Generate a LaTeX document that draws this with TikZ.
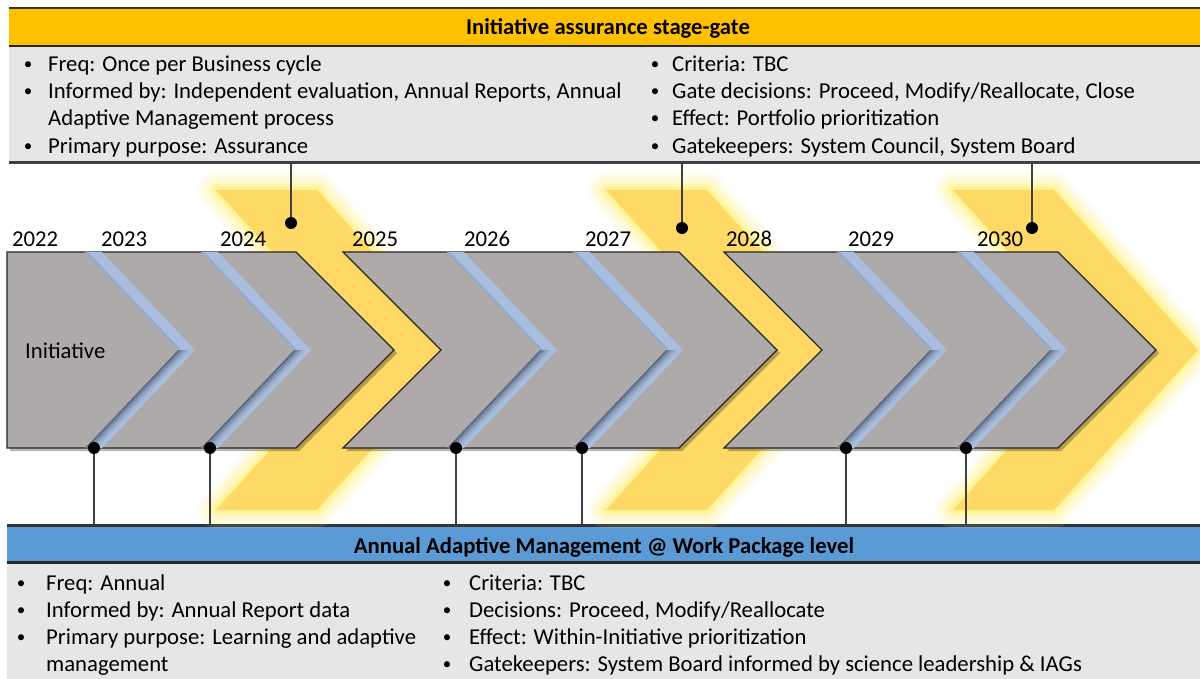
\documentclass[tikz,border=0pt]{standalone}
\usepackage{fontspec}
\setmainfont{Carlito}
\definecolor{hdrorange}{HTML}{FFC000}
\definecolor{hdrblue}{HTML}{5B9BD5}
\definecolor{boxgray}{HTML}{E7E6E6}
\definecolor{chevgray}{HTML}{AEAAAA}
\definecolor{sepblue}{HTML}{A9BEDF}
\definecolor{sepdark}{HTML}{5F6C84}
\definecolor{gold}{HTML}{FFD966}
\definecolor{glowcol}{HTML}{FFF27A}
\begin{document}
\begin{tikzpicture}[x=1pt,y=-1pt,font=\fontsize{22.7}{27}\selectfont,
  txt/.style={anchor=base west,inner sep=0pt},
  bul/.style={anchor=base,inner sep=0pt,font=\fontsize{17}{20}\selectfont,yshift=2pt},
  yr/.style={anchor=base west,inner sep=0pt},
  ttl/.style={anchor=base,inner sep=0pt,font=\fontsize{22.7}{27}\selectfont\bfseries},
  panel/.style={rectangle,inner sep=0pt,outer sep=0pt,anchor=north west},
  conn/.style={draw=black!75,line width=1.2pt},
  dotm/.style={circle,fill=black,inner sep=0pt,minimum size=12pt},
  grp/.style={fill=chevgray,draw=black!85,line width=1.2pt,line join=miter},
  grpshadow/.style={fill=black,opacity=0.28}]
\useasboundingbox (0,0) rectangle (1200,679);
\fill[white] (0,0) rectangle (1200,679);

% ---------- panels ----------
\node (tophdr) [panel,fill=hdrorange,minimum width=1191pt,minimum height=38pt] at (9,8) {};
\node (topbox) [panel,fill=boxgray,minimum width=1191pt,minimum height=117pt] at (9,46) {};
\node (bothdr) [panel,fill=hdrblue,minimum width=1193pt,minimum height=37pt] at (7,525) {};
\node (botbox) [panel,fill=boxgray,minimum width=1193pt,minimum height=117pt] at (7,562) {};
\draw[line width=2pt,black!80] (tophdr.north west) -- (tophdr.north east);
\draw[line width=2.5pt,black!85] (topbox.north west) -- (topbox.north east);
\draw[line width=3pt,black!75] (topbox.south west) -- (topbox.south east);
\draw[line width=3pt,black!80] (bothdr.north west) -- (bothdr.north east);
\draw[line width=3pt,black!85] (botbox.north west) -- (botbox.north east);

% ---------- header texts ----------
\node (toptitle) [ttl] at (608,35) {Initiative assurance stage-gate};
\node (bottitle) [ttl] at (604,553) {Annual Adaptive Management @ Work Package level};

% top-left
\node (tlb1) [bul] at (28,72) {•};
\node (tlt1) [txt] at (48,72) {Freq: Once per Business cycle};
\node (tlb2) [bul] at (28,99) {•};
\node (tlt2) [txt] at (48,99) {Informed by: Independent evaluation, Annual Reports, Annual};
\node (tlt3) [txt] at (48,126) {Adaptive Management process};
\node (tlb4) [bul] at (28,154) {•};
\node (tlt4) [txt] at (48,154) {Primary purpose: Assurance};
% top-right
\node (trb1) [bul] at (655,72) {•};
\node (trt1) [txt] at (672,72) {Criteria: TBC};
\node (trb2) [bul] at (655,99) {•};
\node (trt2) [txt] at (672,99) {Gate decisions: Proceed, Modify/Reallocate, Close};
\node (trb3) [bul] at (655,126) {•};
\node (trt3) [txt] at (672,126) {Effect: Portfolio prioritization};
\node (trb4) [bul] at (655,154) {•};
\node (trt4) [txt] at (672,154) {Gatekeepers: System Council, System Board};
% bottom-left
\node (blb1) [bul] at (21,590) {•};
\node (blt1) [txt] at (46,590) {Freq: Annual};
\node (blb2) [bul] at (21,617) {•};
\node (blt2) [txt] at (46,617) {Informed by: Annual Report data};
\node (blb3) [bul] at (21,644) {•};
\node (blt3) [txt] at (46,644) {Primary purpose: Learning and adaptive};
\node (blt4) [txt] at (46,671) {management};
% bottom-right
\node (brb1) [bul] at (447,590) {•};
\node (brt1) [txt] at (469,590) {Criteria: TBC};
\node (brb2) [bul] at (447,617) {•};
\node (brt2) [txt] at (469,617) {Decisions: Proceed, Modify/Reallocate};
\node (brb3) [bul] at (447,644) {•};
\node (brt3) [txt] at (469,644) {Effect: Within-Initiative prioritization};
\node (brb4) [bul] at (447,671) {•};
\node (brt4) [txt] at (469,671) {Gatekeepers: System Board informed by science leadership \& IAGs};

% ---------- yellow gate chevrons with glow ----------
\foreach \a in {216,606,953} {
  \foreach \w/\o in {36/0.10,28/0.14,20/0.2,12/0.3,6/0.45} {
    \draw[glowcol,line width=\w pt,opacity=\o,line join=round]
      (\a,190) -- (\a+101,190) -- (\a+245,350) -- (\a+101,510) -- (\a,510) -- (\a+144,350) -- cycle;
  }
  \fill[gold] (\a,190) -- (\a+101,190) -- (\a+245,350) -- (\a+101,510) -- (\a,510) -- (\a+144,350) -- cycle;
}

% ---------- grey groups ----------
\fill[grpshadow] (10,255) -- (299,255) -- (397,353) -- (299,451) -- (10,451) -- cycle;
\fill[grpshadow] (346,255) -- (682,255) -- (780,353) -- (682,451) -- (346,451) -- (444,353) -- cycle;
\fill[grpshadow] (727,255) -- (1061,255) -- (1159,353) -- (1061,451) -- (727,451) -- (825,353) -- cycle;
\path[grp] (7,252) -- (296,252) -- (394,350) -- (296,448) -- (7,448) -- cycle;
\path[grp] (343,252) -- (679,252) -- (777,350) -- (679,448) -- (343,448) -- (441,350) -- cycle;
\path[grp] (724,252) -- (1058,252) -- (1156,350) -- (1058,448) -- (724,448) -- (822,350) -- cycle;

% separators (bevelled blue strips)
\foreach \d in {94,210,456,582,846,966} {
  \fill[sepblue] (\d-9,252) -- (\d+8,252) -- (\d+101,350) -- (\d+8,448) -- (\d-9,448) -- (\d+84,350) -- cycle;
  \fill[sepdark] (\d-9,448) -- (\d+84,350) -- (\d+87,350) -- (\d-6,448) -- cycle;
  \fill[sepdark!65!sepblue] (\d-6,448) -- (\d+87,350) -- (\d+90,350) -- (\d-3,448) -- cycle;
  \fill[sepdark!35!sepblue] (\d-3,448) -- (\d+90,350) -- (\d+93,350) -- (\d,448) -- cycle;
  \fill[sepdark!15!sepblue] (\d,448) -- (\d+93,350) -- (\d+96,350) -- (\d+3,448) -- cycle;
  \fill[sepdark!25!sepblue] (\d-9,252) -- (\d-6,252) -- (\d+87,350) -- (\d+84,350) -- cycle;
}

\node (initlbl) [txt] at (25,358) {Initiative};

% ---------- years ----------
\node (y2022) [yr] at (12,247) {2022};
\node (y2023) [yr] at (101,247) {2023};
\node (y2024) [yr] at (220,247) {2024};
\node (y2025) [yr] at (352,247) {2025};
\node (y2026) [yr] at (464,247) {2026};
\node (y2027) [yr] at (585,247) {2027};
\node (y2028) [yr] at (726,247) {2028};
\node (y2029) [yr] at (848,247) {2029};
\node (y2030) [yr] at (977,247) {2030};

% ---------- gate dots ----------
\node (gd1) [dotm] at (291,223) {};
\node (gd2) [dotm] at (682,228) {};
\node (gd3) [dotm] at (1032,228) {};
\foreach \g in {gd1,gd2,gd3} { \draw[conn] (\g) -- (\g |- topbox.south); }

% ---------- annual dots ----------
\node (bd1) [dotm] at (94,448) {};
\node (bd2) [dotm] at (210,448) {};
\node (bd3) [dotm] at (456,448) {};
\node (bd4) [dotm] at (582,448) {};
\node (bd5) [dotm] at (846,448) {};
\node (bd6) [dotm] at (966,448) {};
\foreach \b in {bd1,bd2,bd3,bd4,bd5,bd6} { \draw[conn] (\b) -- (\b |- bothdr.north); }
\end{tikzpicture}
\end{document}
